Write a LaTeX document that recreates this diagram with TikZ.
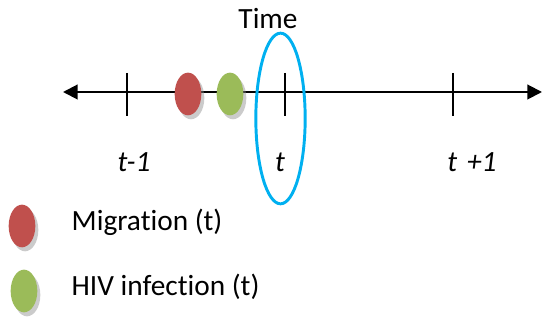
\documentclass[tikz,border=0pt]{standalone}
\usepackage{fontspec}
\setmainfont[Ligatures={NoCommon}]{Carlito}
\usetikzlibrary{arrows.meta,shapes.geometric}
\definecolor{eventred}{HTML}{C0504D}
\definecolor{eventgreen}{HTML}{9BBB59}
\definecolor{timeblue}{HTML}{00B0F0}

\begin{document}
\begin{tikzpicture}[x=0.75pt,y=-0.75pt,
    event/.style={ellipse,minimum width=20pt,minimum height=32pt,inner sep=0pt},
    shade/.style={ellipse,minimum width=20pt,minimum height=32pt,inner sep=0pt,fill=black!45,opacity=.45},
    tick/.style={line width=1.1pt},
    ticklabel/.style={font=\fontsize{22}{24}\selectfont\itshape},
    legendtext/.style={anchor=west,font=\fontsize{22}{24}\selectfont}]
    \useasboundingbox (0,0) rectangle (542,323);
    % time axis
    \coordinate (axisLeft) at (63,92);
    \coordinate (axisRight) at (542,92);
    \draw[line width=1.5pt,{Triangle[length=11pt,width=11pt]}-{Triangle[length=11pt,width=11pt]}]
      (axisLeft) -- (axisRight);
    \foreach \x/\name in {127/tPrev,285/tNow,453/tNext}{
      \coordinate (\name) at (\x,92);
      \draw[tick] (\x,73) -- (\x,116);
    }
    \node[ticklabel] (labPrev) at (134,162) {t-1};
    \node[ticklabel] (labNow) at (280,162) {t};
    \node[ticklabel] (labNext) at (472,162) {t\,\,+1};
    % events on the axis
    \node[shade] at (191,98) {};
    \node[event,fill=eventred] (migration) at (188,94) {};
    \node[shade] at (233,98) {};
    \node[event,fill=eventgreen] (infection) at (230,94) {};
    % time window
    \node[ellipse,draw=timeblue,line width=2.2pt,minimum width=37pt,minimum height=128pt,inner sep=0pt]
      (window) at (280.5,118.5) {};
    \node[font=\fontsize{22}{24}\selectfont] (timeLabel) at (268,19) {Time};
    % legend
    \node[shade] at (25,230) {};
    \node[event,fill=eventred] (keyMigration) at (22,226) {};
    \node[legendtext] (txtMigration) at (67,222) {Migration (t)};
    \node[shade] at (27,295) {};
    \node[event,fill=eventgreen] (keyInfection) at (24,291) {};
    \node[legendtext] (txtInfection) at (67,287) {HIV infection (t)};
\end{tikzpicture}
\end{document}
